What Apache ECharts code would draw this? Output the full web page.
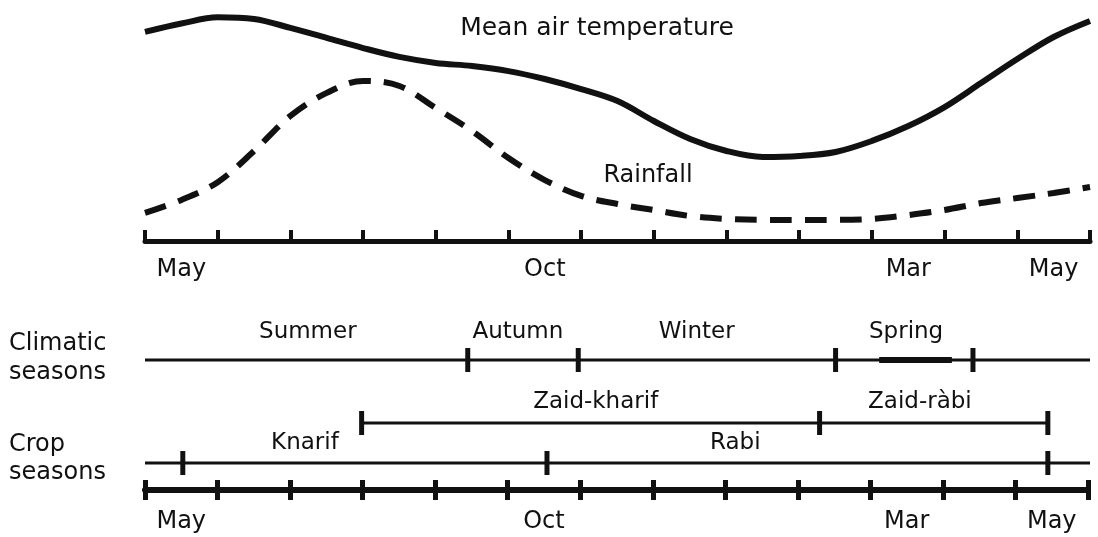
<!DOCTYPE html>
<html>
<head>
<meta charset="utf-8">
<script src="https://cdn.jsdelivr.net/npm/echarts@6/dist/echarts.min.js"></script>
<style>
html,body{margin:0;padding:0;background:#fff;}
#chart{width:1098px;height:537px;}
</style>
</head>
<body>
<div id="chart"></div>
<script>
// ---- data (x in months from the start of May) ----
const months = ['May','Jun','Jul','Aug','Sep','Oct','Nov','Dec','Jan','Feb','Mar','Apr','May'];
const labeledMonths = [0, 5, 10, 12];
const curveMonths = [0,0.5,1,1.5,2,2.5,3,3.5,4,4.5,5,5.5,6,6.5,7,7.5,8,8.5,9,9.5,10,10.5,11,11.5,12,12.5,13];
const temperature = [87.1,90.6,93.2,92.5,88.8,84.6,80.4,76.7,74.2,72.9,70.8,67.5,63.3,58.3,50.0,42.5,37.5,35.0,35.4,37.1,41.7,47.9,55.8,65.8,75.8,85.0,91.7];
const rainfall = [11.7,17.1,24.5,37.5,52.1,61.7,66.7,64.6,55.4,45.8,34.6,25.4,18.8,15.4,12.9,10.4,9.2,8.8,8.8,8.8,9.2,10.8,12.9,15.8,17.9,20.0,22.5];

const climaticSeasons = ['Summer','Autumn','Winter','Spring'];
const climaticSpan = [0, 13];
const climaticBounds = [4.44, 5.96, 9.5, 11.39];
const climaticLabelAt = [2.24, 5.13, 7.59, 10.47];
const springMark = [10.1, 11.1];

const zaidSeasons = ['Zaid-kharif','Zaid-ràbi'];
const zaidSpan = [2.98, 12.42];
const zaidBounds = [2.98, 9.28, 12.42];
const zaidLabelAt = [6.2, 10.66];

const mainSeasons = ['Knarif','Rabi'];
const mainSpan = [0, 13];
const mainBounds = [0.52, 5.53, 12.42];
const mainLabelAt = [2.2, 8.12];

// ---- chart ----
const FONT = 'DejaVu Sans';
const INK = '#111';
const chart = echarts.init(document.getElementById('chart'));

function rowSeries(row, span, bounds, names, labelAt, labelDy) {
  const ax = row + 1;
  return [
    { type:'line', xAxisIndex:ax, yAxisIndex:ax, data:[[span[0],0],[span[1],0]],
      symbol:'none', lineStyle:{color:INK, width:3}, silent:true },
    { type:'scatter', xAxisIndex:ax, yAxisIndex:ax, data:bounds.map(b=>[b,0]),
      symbol:'rect', symbolSize:[5,24], itemStyle:{color:INK, opacity:1}, silent:true },
    { type:'scatter', xAxisIndex:ax, yAxisIndex:ax,
      data:names.map((n,i)=>({name:n, value:[labelAt[i],0]})),
      symbolSize:1, itemStyle:{color:'rgba(0,0,0,0)', opacity:1}, silent:true,
      label:{show:true, position:'inside', offset:[0,labelDy], formatter:p=>p.name,
        fontFamily:FONT, fontSize:23, color:INK, opacity:1} }
  ];
}

const rowAxisX = g => ({gridIndex:g, type:'value', min:0, max:13, show:false, position:'bottom'});
const rowAxisY = g => ({gridIndex:g, type:'value', min:-1, max:1, show:false});

const option = {
  animation:false,
  backgroundColor:'#fff',
  grid:[
    {left:145, right:8, top:1, height:240},
    {left:145, right:8, top:350, height:20},
    {left:145, right:8, top:413, height:20},
    {left:145, right:8, top:453, height:20},
    {left:145, right:10, top:470, height:20}
  ],
  xAxis:[
    {gridIndex:0, type:'value', min:0, max:13, show:false, position:'bottom'},
    rowAxisX(1), rowAxisX(2), rowAxisX(3),
    {gridIndex:0, type:'category', data:months, position:'bottom', boundaryGap:true, show:true,
      axisLine:{show:true, lineStyle:{color:INK, width:5}},
      axisTick:{show:true, inside:true, length:11, interval:0, alignWithLabel:false, lineStyle:{color:INK, width:4}},
      axisLabel:{interval:(i)=>labeledMonths.includes(i), margin:17, fontFamily:FONT, fontSize:24, color:INK},
      splitLine:{show:false}},
    {gridIndex:4, type:'category', data:months, position:'bottom', boundaryGap:true, show:true,
      axisLine:{show:true, lineStyle:{color:INK, width:6}},
      axisTick:{show:true, inside:false, length:10, interval:0, alignWithLabel:false, lineStyle:{color:INK, width:5}},
      axisLabel:{interval:(i)=>labeledMonths.includes(i), margin:20, fontFamily:FONT, fontSize:24, color:INK},
      splitLine:{show:false}},
    {gridIndex:4, type:'category', data:months, position:'bottom', boundaryGap:true, show:true,
      axisLine:{show:false},
      axisTick:{show:true, inside:true, length:10, interval:0, alignWithLabel:false, lineStyle:{color:INK, width:5}},
      axisLabel:{show:false}, splitLine:{show:false}}
  ],
  yAxis:[
    {gridIndex:0, type:'value', min:0, max:100, show:false},
    rowAxisY(1), rowAxisY(2), rowAxisY(3),
    {gridIndex:4, type:'value', min:0, max:1, show:false}
  ],
  graphic:[
    {type:'text', x:597, y:28, style:{text:'Mean air temperature', fontFamily:FONT, fontSize:25, fill:INK, textAlign:'center', textVerticalAlign:'middle'}},
    {type:'text', x:648, y:176, style:{text:'Rainfall', fontFamily:FONT, fontSize:24, fill:INK, textAlign:'center', textVerticalAlign:'middle'}},
    {type:'text', x:9, y:329, style:{text:'Climatic\nseasons', fontFamily:FONT, fontSize:24, lineHeight:29, fill:INK, textAlign:'left', textVerticalAlign:'top'}},
    {type:'text', x:9, y:431, style:{text:'Crop\nseasons', fontFamily:FONT, fontSize:24, lineHeight:28, fill:INK, textAlign:'left', textVerticalAlign:'top'}}
  ],
  series:[
    {name:'Mean air temperature', type:'line', xAxisIndex:0, yAxisIndex:0,
      data:curveMonths.map((m,i)=>[m,temperature[i]]), smooth:0.35, symbol:'none',
      lineStyle:{color:INK, width:6}, silent:true},
    {name:'Rainfall', type:'line', xAxisIndex:0, yAxisIndex:0,
      data:curveMonths.map((m,i)=>[m,rainfall[i]]), smooth:0.35, symbol:'none',
      lineStyle:{color:INK, width:6, type:[22,13]}, silent:true},
    ...rowSeries(0, climaticSpan, climaticBounds, climaticSeasons, climaticLabelAt, -28),
    { type:'line', xAxisIndex:1, yAxisIndex:1, data:springMark.map(m=>[m,0]), symbol:'none',
      lineStyle:{color:INK, width:6}, silent:true },
    ...rowSeries(1, zaidSpan, zaidBounds, zaidSeasons, zaidLabelAt, -21),
    ...rowSeries(2, mainSpan, mainBounds, mainSeasons, mainLabelAt, -20)
  ]
};
chart.setOption(option);
</script>
</body>
</html>
